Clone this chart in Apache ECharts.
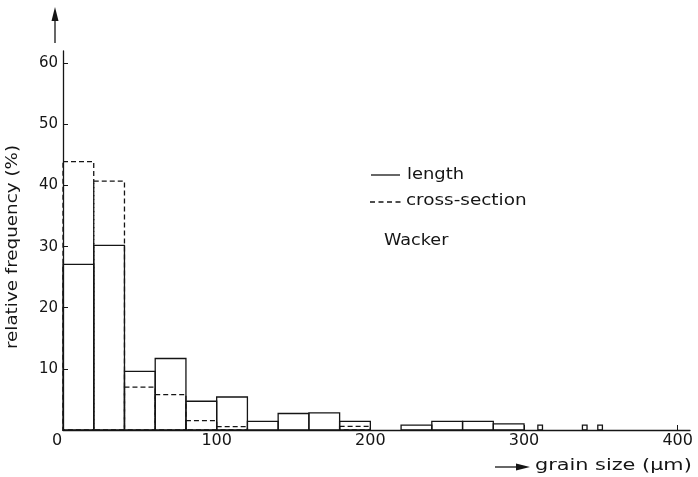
<!DOCTYPE html>
<html><head><meta charset="utf-8">
<script src="https://cdn.jsdelivr.net/npm/echarts@6/dist/echarts.min.js"></script>
<style>html,body{margin:0;padding:0;background:#fff}#c{width:698px;height:477px}</style>
</head><body><div id="c"></div>
<script>
// ---- data (relative frequency in %, bins of 20 µm) ----
const binWidth = 20;
const binStarts = [0, 20, 40, 60, 80, 100, 120, 140, 160, 180, 200, 220, 240, 260, 280];
const lengthFreq = [27.1, 30.2, 9.6, 11.7, 4.7, 5.4, 1.4, 2.7, 2.8, 1.4, 0, 0.8, 1.4, 1.4, 1.0];
const crossFreq  = [43.9, 40.7, 7.0, 5.8, 1.55, 0.55, 0, 0, 0, 0.6, 0, 0, 0, 0, 0];
// isolated single grains beyond 300 µm (length)
const grainStarts = [309, 338, 348];
const grainWidth = 3;
const grainFreq = [0.8, 0.8, 0.8];
const xTickValues = [0, 100, 200, 300, 400];
const yTickValues = [0, 10, 20, 30, 40, 50, 60];

const ink = '#151515';
const FONT = 'DejaVu Sans';

function toRects(starts, widths, vals) {
  const out = [];
  starts.forEach((s, i) => {
    const w = Array.isArray(widths) ? widths[i] : widths;
    if (vals[i] > 0) out.push([s, s + w, vals[i]]);
  });
  return out;
}
const lengthRects = toRects(binStarts, binWidth, lengthFreq).concat(toRects(grainStarts, grainWidth, grainFreq));
const crossRects = toRects(binStarts, binWidth, crossFreq);

function makeRender(dash) {
  return function (params, api) {
    const p0 = api.coord([api.value(0), api.value(2)]);
    const p1 = api.coord([api.value(1), 0]);
    return {
      type: 'rect',
      shape: { x: p0[0], y: p0[1], width: p1[0] - p0[0], height: p1[1] - p0[1] },
      style: { fill: 'none', stroke: ink, lineWidth: 1.3, lineDash: dash }
    };
  };
}

const chart = echarts.init(document.getElementById('c'), null, { renderer: 'canvas' });
chart.setOption({
  backgroundColor: '#fff',
  animation: false,
  grid: { left: 63, right: 8, top: 51, bottom: 47, containLabel: false },
  xAxis: {
    type: 'value', min: 0, max: 408,
    axisLine: { show: true, lineStyle: { color: ink, width: 1.3 } },
    axisTick: { show: true, inside: true, length: 5, lineStyle: { color: ink }, customValues: [100, 200, 300, 400] },
    splitLine: { show: false },
    axisLabel: {
      customValues: xTickValues, margin: 3, color: ink, fontFamily: FONT, fontSize: 16,
      formatter: v => v === 0 ? '{z|0}' : String(v),
      rich: { z: { padding: [0, 12, 5, 0], fontFamily: FONT, fontSize: 16, color: ink } }
    }
  },
  yAxis: {
    type: 'value', min: 0, max: 62,
    axisLine: { show: true, lineStyle: { color: ink, width: 1.3 } },
    axisTick: { show: true, inside: true, length: 5, lineStyle: { color: ink }, customValues: yTickValues.slice(1) },
    splitLine: { show: false },
    axisLabel: {
      customValues: yTickValues.slice(1), margin: 5, color: ink, fontFamily: FONT, fontSize: 15
    }
  },
  series: [
    { type: 'custom', name: 'cross-section', renderItem: makeRender([5, 3]), data: crossRects, encode: { x: [0, 1], y: 2 }, z: 2 },
    { type: 'custom', name: 'length', renderItem: makeRender(null), data: lengthRects, encode: { x: [0, 1], y: 2 }, z: 3 }
  ],
  graphic: [
    // vertical arrow (y axis)
    { type: 'line', shape: { x1: 55, y1: 43, x2: 55, y2: 18 }, style: { stroke: ink, lineWidth: 1.3 } },
    { type: 'polygon', shape: { points: [[55, 7], [51.5, 21], [58.5, 21]] }, style: { fill: ink } },
    // y title
    { type: 'text', x: 13, y: 247, rotation: Math.PI / 2, scaleX: 1.22,
      style: { text: 'relative frequency (%)', font: '15px "DejaVu Sans"', fill: ink, align: 'center', verticalAlign: 'middle' } },
    // x arrow + title
    { type: 'line', shape: { x1: 495, y1: 467, x2: 518, y2: 467 }, style: { stroke: ink, lineWidth: 1.3 } },
    { type: 'polygon', shape: { points: [[530, 467], [516, 463.5], [516, 470.5]] }, style: { fill: ink } },
    { type: 'text', x: 535, y: 466, scaleX: 1.3,
      style: { text: 'grain size (µm)', font: '16px "DejaVu Sans"', fill: ink, align: 'left', verticalAlign: 'middle' } },
    // legend
    { type: 'line', shape: { x1: 371, y1: 175, x2: 400, y2: 175 }, style: { stroke: ink, lineWidth: 1.3 } },
    { type: 'text', x: 407, y: 175, scaleX: 1.12,
      style: { text: 'length', font: '16px "DejaVu Sans"', fill: ink, align: 'left', verticalAlign: 'middle' } },
    { type: 'line', shape: { x1: 370, y1: 202, x2: 404, y2: 202 }, style: { stroke: ink, lineWidth: 1.3, lineDash: [5, 3.5] } },
    { type: 'text', x: 406, y: 201, scaleX: 1.15,
      style: { text: 'cross-section', font: '16px "DejaVu Sans"', fill: ink, align: 'left', verticalAlign: 'middle' } },
    { type: 'text', x: 384, y: 241, scaleX: 1.1,
      style: { text: 'Wacker', font: '16px "DejaVu Sans"', fill: ink, align: 'left', verticalAlign: 'middle' } }
  ]
});
</script></body></html>
